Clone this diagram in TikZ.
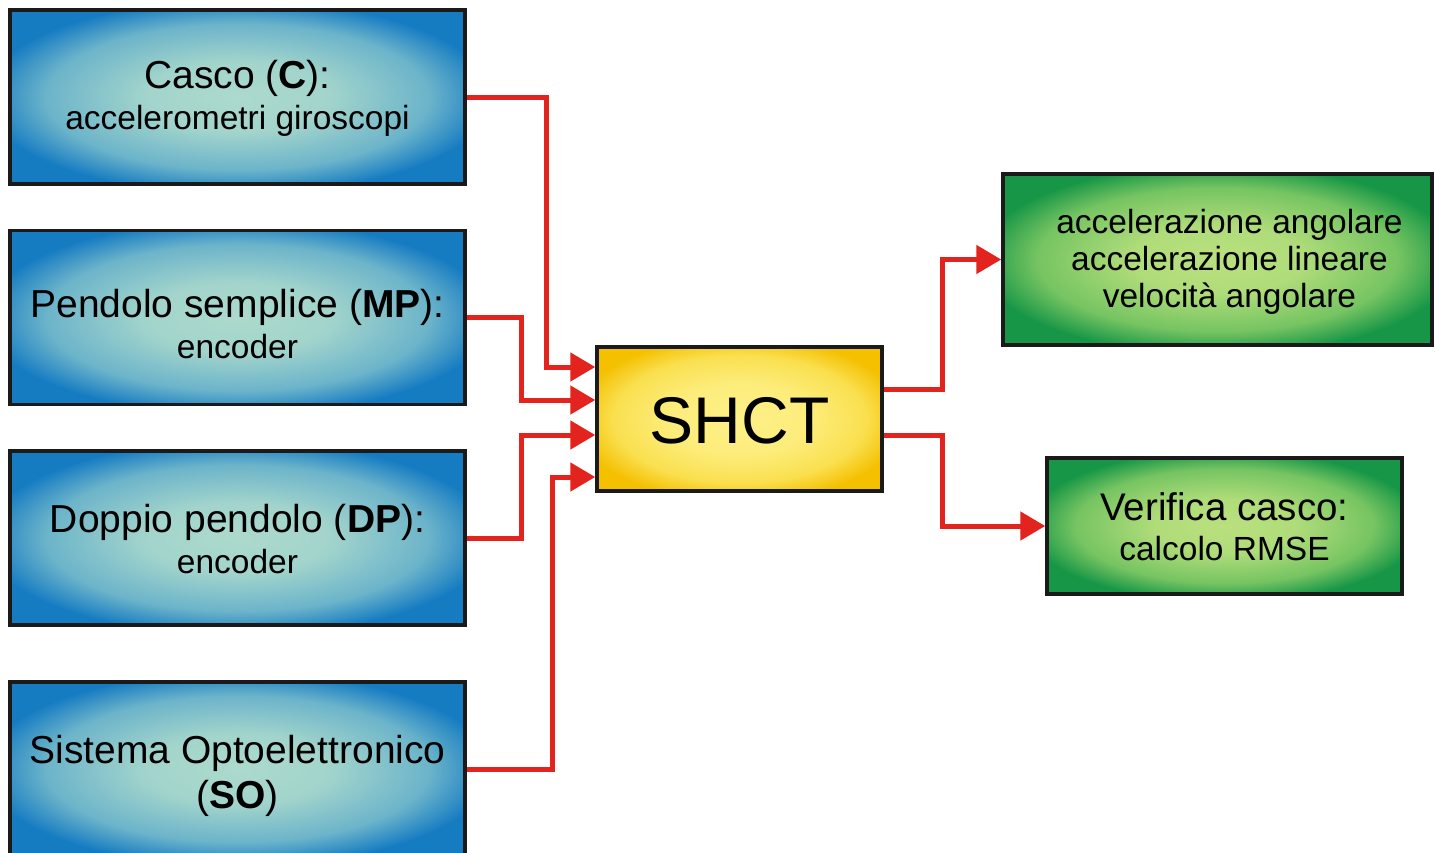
\documentclass[tikz,border=0pt]{standalone}
\usepackage{fontspec}
\setmainfont{Liberation Sans}
\usetikzlibrary{arrows.meta}
\definecolor{bluein}{RGB}{172,218,204}
\definecolor{bluemid}{RGB}{108,180,202}
\definecolor{blueout}{RGB}{22,124,194}
\definecolor{greenin}{RGB}{186,224,126}
\definecolor{greenmid}{RGB}{118,196,98}
\definecolor{greenout}{RGB}{22,150,70}
\definecolor{yellowin}{RGB}{253,240,135}
\definecolor{yellowmid}{RGB}{250,224,80}
\definecolor{yellowout}{RGB}{244,192,0}
\definecolor{arrowred}{RGB}{226,35,30}
\definecolor{edgeblack}{RGB}{26,26,26}
\pgfdeclareradialshading{blueshade}{\pgfpoint{0bp}{0bp}}{color(0bp)=(bluein); color(10bp)=(bluein!85!bluemid); color(21bp)=(bluemid); color(28bp)=(blueout); color(50bp)=(blueout)}
\pgfdeclareradialshading{greenshade}{\pgfpoint{0bp}{0bp}}{color(0bp)=(greenin); color(10bp)=(greenin!85!greenmid); color(21bp)=(greenmid); color(28bp)=(greenout); color(50bp)=(greenout)}
\pgfdeclareradialshading{yellowshade}{\pgfpoint{0bp}{0bp}}{color(0bp)=(yellowin); color(12bp)=(yellowin!80!yellowmid); color(22bp)=(yellowmid); color(29bp)=(yellowout); color(50bp)=(yellowout)}
\newcommand\txbig{\fontsize{39}{41}\selectfont}
\newcommand\txsmall{\fontsize{33.5}{41}\selectfont}
\tikzset{
  box/.style={rectangle, draw=edgeblack, line width=3.5pt, inner sep=0pt},
  bluebox/.style={box, shading=blueshade, minimum width=455pt, minimum height=174pt},
  greenbox/.style={box, shading=greenshade},
  arr/.style={draw=arrowred, line width=5pt, -{Triangle[length=25pt,width=28pt]}},
  txt/.style={align=center, inner sep=0pt, text=black}
}
\begin{document}
\begin{tikzpicture}[x=1pt,y=-1pt]
\useasboundingbox (0,0) rectangle (1435,852);
\fill[white] (0,0) rectangle (1435,852);
\clip (0,0) rectangle (1435,852);

% input boxes
\node[bluebox] (c) at (237.5,97) {};
\node[bluebox] (mp) at (237.5,317.5) {};
\node[bluebox] (dp) at (237.5,538) {};
\node[bluebox] (so) at (237.5,769) {};
\node[txt, font=\txsmall] (ct) at ([yshift=-1.5pt]c.center) {{\txbig Casco (\textbf{C}):}\\accelerometri giroscopi};
\node[txt, font=\txsmall] (mpt) at ([yshift=-6.5pt]mp.center) {{\txbig Pendolo semplice (\textbf{MP}):}\\encoder};
\node[txt, font=\txsmall] (dpt) at ([yshift=-1.5pt]dp.center) {{\txbig Doppio pendolo (\textbf{DP}):}\\encoder};
\node[txt, font=\fontsize{39}{45}\selectfont] (sot) at ([yshift=-6.5pt]so.center) {Sistema Optoelettronico\\(\textbf{SO})};

% central box
\node[box, shading=yellowshade, minimum width=285pt, minimum height=144pt] (shct) at (739.5,419) {};
\node[txt, font=\fontsize{66}{70}\selectfont] (shctt) at ([yshift=-2pt]shct.center) {SHCT};

% output boxes
\node[greenbox, minimum width=429pt, minimum height=171pt] (out1) at (1217.5,259.5) {};
\node[txt, font=\fontsize{33.5}{37}\selectfont] (out1t) at (1229.5,262) {accelerazione angolare\\accelerazione lineare\\velocità angolare};
\node[greenbox, minimum width=355pt, minimum height=136pt] (out2) at (1224.5,526) {};
\node[txt, font=\fontsize{33.5}{40}\selectfont] (out2t) at ([yshift=-1pt]out2.center) {{\fontsize{38.5}{40}\selectfont Verifica casco:}\\calcolo RMSE};

% entry points on SHCT
\coordinate (i1) at ([yshift=52pt]shct.west);
\coordinate (i2) at ([yshift=19pt]shct.west);
\coordinate (i3) at ([yshift=-16pt]shct.west);
\coordinate (i4) at ([yshift=-58pt]shct.west);
\coordinate (o1) at ([yshift=30pt]shct.east);
\coordinate (o2) at ([yshift=-16pt]shct.east);

% connectors
\draw[arr] (c.east) -| (546,0 |- i1) -- (i1);
\draw[arr] (mp.east) -| (521,0 |- i2) -- (i2);
\draw[arr] (dp.east) -| (521,0 |- i3) -- (i3);
\draw[arr] (so.east) -| (552,0 |- i4) -- (i4);
\draw[arr] (o1) -| (942,0 |- out1.west) -- (out1.west);
\draw[arr] (o2) -| (942,0 |- out2.west) -- (out2.west);
\end{tikzpicture}
\end{document}
